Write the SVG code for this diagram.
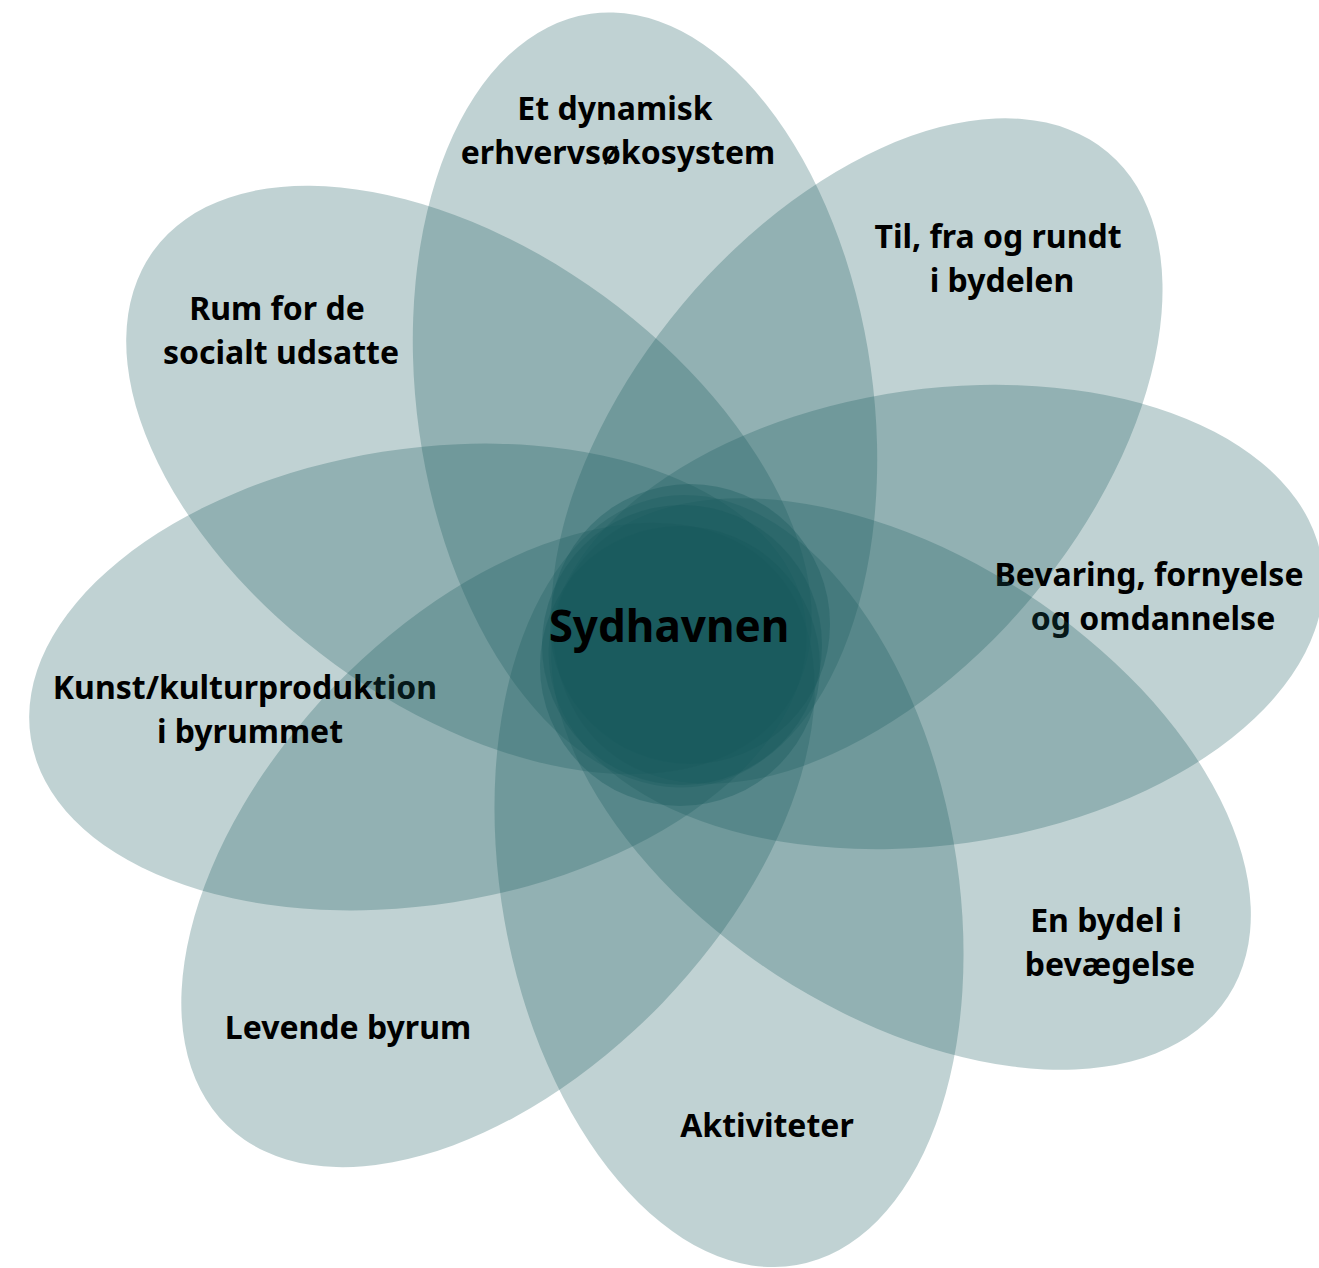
<svg xmlns="http://www.w3.org/2000/svg" width="1319" height="1268" viewBox="0 0 1319 1268">
<style>
.petal{fill:#17585c;fill-opacity:0.27}
.core{fill:#17585c;fill-opacity:0.35}
.lbl{font-family:"Noto Sans","Open Sans","Liberation Sans",sans-serif;font-weight:700;font-size:32px;fill:#000;text-anchor:middle}
.title{font-size:44px}
</style>
<rect width="1319" height="1268" fill="#fff"/>
<g id="petal-erhverv">
<ellipse class="petal" cx="645" cy="400" rx="228" ry="390" transform="rotate(-8 645 400)"/>
<text class="lbl"><tspan x="615" y="120">Et dynamisk</tspan><tspan x="618" y="164">erhvervsøkosystem</tspan></text>
</g>
<g id="petal-bydelen">
<ellipse class="petal" cx="857" cy="451" rx="228" ry="390" transform="rotate(40 857 451)"/>
<text class="lbl"><tspan x="998" y="248">Til, fra og rundt</tspan><tspan x="1002" y="292">i bydelen</tspan></text>
</g>
<g id="petal-bevaring">
<ellipse class="petal" cx="936" cy="617" rx="228" ry="390" transform="rotate(82 936 617)"/>
<text class="lbl"><tspan x="1149" y="586">Bevaring, fornyelse</tspan><tspan x="1153" y="630">og omdannelse</tspan></text>
</g>
<g id="petal-bevaegelse">
<ellipse class="petal" cx="901" cy="784" rx="228" ry="390" transform="rotate(123 901 784)"/>
<text class="lbl"><tspan x="1106" y="932">En bydel i</tspan><tspan x="1110" y="976">bevægelse</tspan></text>
</g>
<g id="petal-aktiviteter">
<ellipse class="petal" cx="729" cy="881" rx="228" ry="390" transform="rotate(170 729 881)"/>
<text class="lbl" x="767" y="1137">Aktiviteter</text>
</g>
<g id="petal-levende">
<ellipse class="petal" cx="498" cy="845" rx="228" ry="390" transform="rotate(44 498 845)"/>
<text class="lbl" x="348" y="1039">Levende byrum</text>
</g>
<g id="petal-kunst">
<ellipse class="petal" cx="418" cy="677" rx="228" ry="392" transform="rotate(81 418 677)"/>
<text class="lbl"><tspan x="245" y="699">Kunst/kulturproduktion</tspan><tspan x="250" y="743">i byrummet</tspan></text>
</g>
<g id="petal-socialt">
<ellipse class="petal" cx="469" cy="480" rx="228" ry="390" transform="rotate(-54 469 480)"/>
<text class="lbl"><tspan x="277" y="320">Rum for de</tspan><tspan x="281" y="364">socialt udsatte</tspan></text>
</g>
<g id="center-sydhavnen">
<circle class="core" cx="690" cy="624" r="140"/>
<circle class="core" cx="680" cy="666" r="140"/>
<circle class="core" cx="682" cy="645" r="140"/>
<text class="lbl title" x="669" y="642">Sydhavnen</text>
</g>
<g id="connectors"/>
</svg>
